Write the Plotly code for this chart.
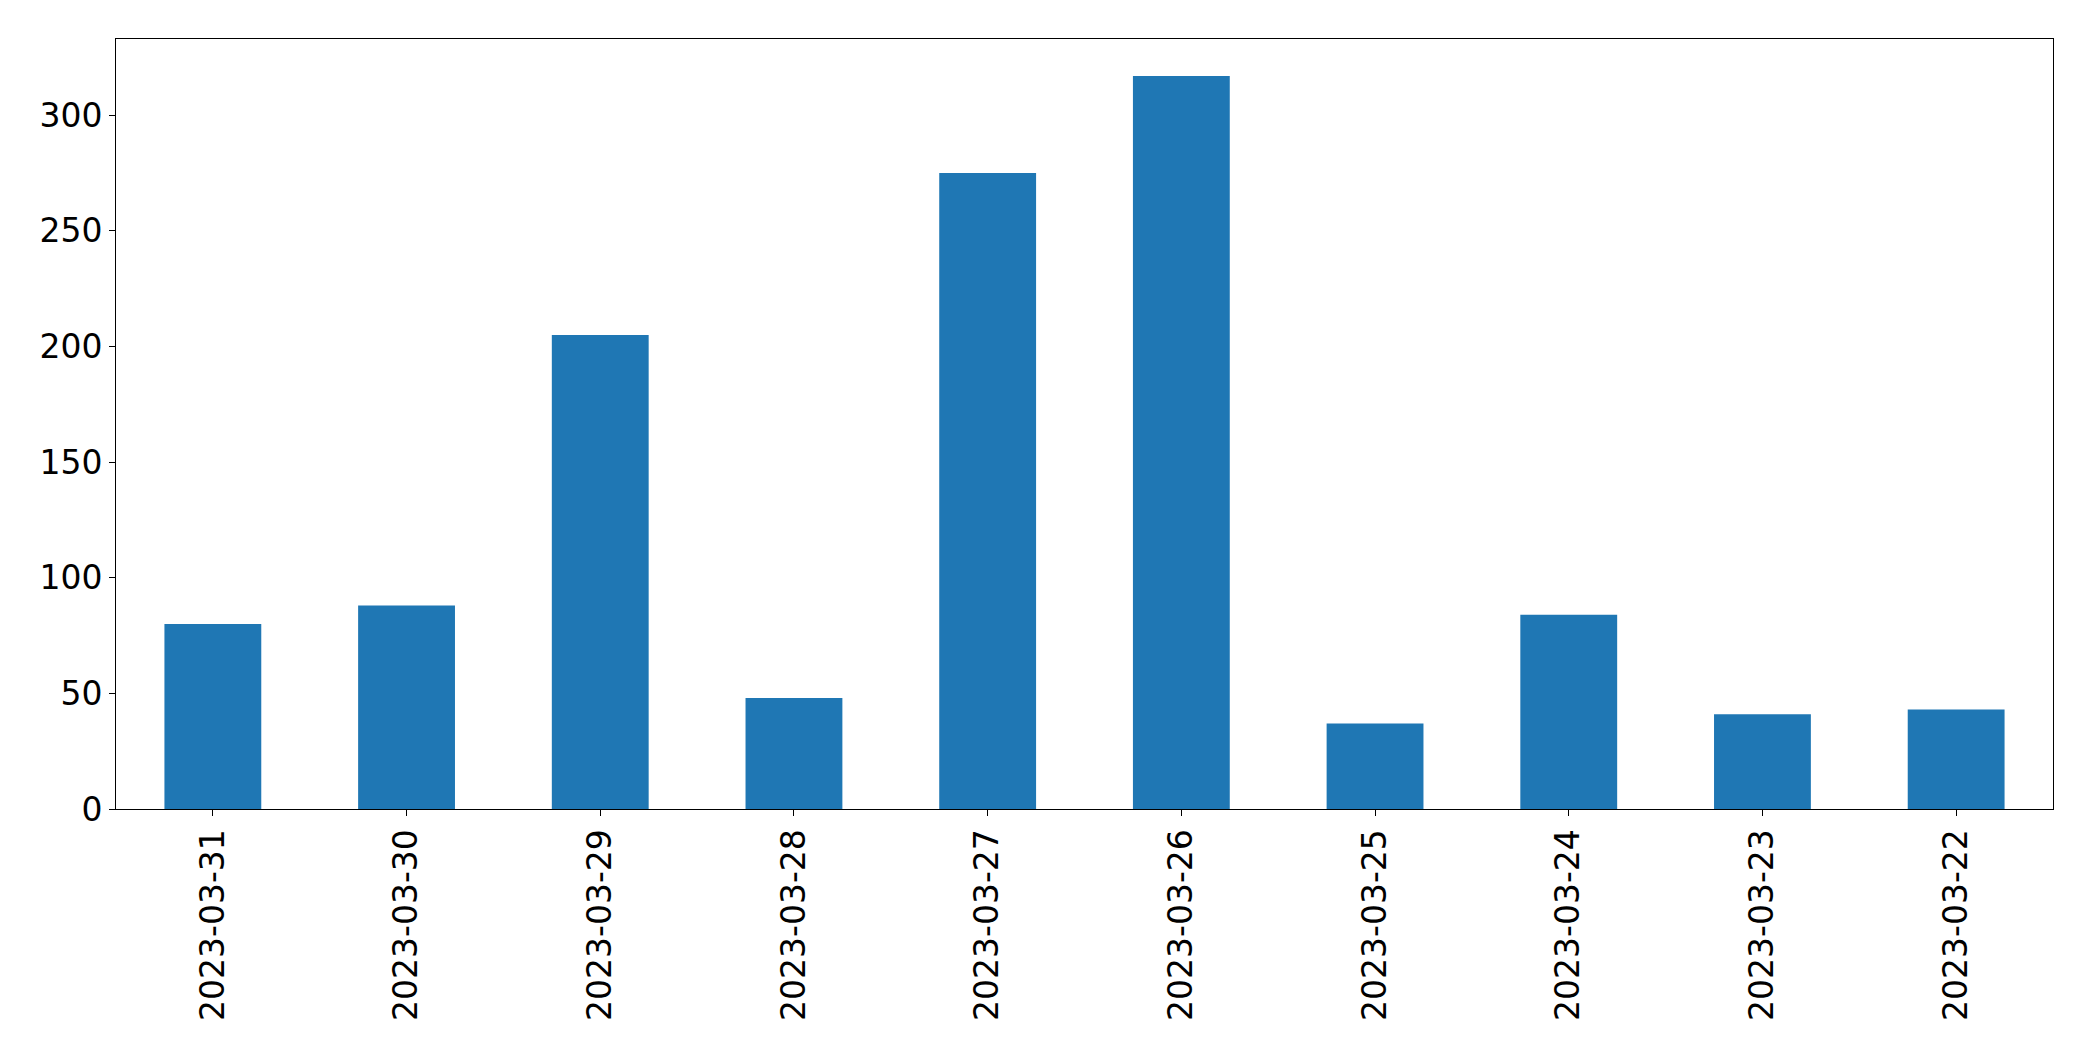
import plotly.graph_objects as go

dates = ["2023-03-31", "2023-03-30", "2023-03-29", "2023-03-28", "2023-03-27",
         "2023-03-26", "2023-03-25", "2023-03-24", "2023-03-23", "2023-03-22"]
counts = [80, 88, 205, 48, 275, 317, 37, 84, 41, 43]
y_ticks = [0, 50, 100, 150, 200, 250, 300]

fig = go.Figure(go.Bar(x=dates, y=counts, marker_color="#1f77b4", marker_line_width=0))

fig.update_layout(
    width=2093, height=1061,
    margin=dict(l=108, r=48, t=31, b=260),
    paper_bgcolor="white", plot_bgcolor="white",
    bargap=0.5,
    showlegend=False,
    font=dict(family="DejaVu Sans", size=33, color="black"),
)
fig.update_xaxes(
    type="category", tickangle=-90,
    showline=True, linecolor="black", linewidth=1, mirror=True,
    ticks="outside", ticklen=6, tickcolor="black", tickwidth=1,
    showgrid=False, range=[-0.5, 9.5],
)
fig.update_yaxes(
    range=[0, 333], tickvals=y_ticks,
    showline=True, linecolor="black", linewidth=1, mirror=True,
    ticks="outside", ticklen=6, tickcolor="black", tickwidth=1,
    showgrid=False, zeroline=False,
)

fig.write_html("out.html")
